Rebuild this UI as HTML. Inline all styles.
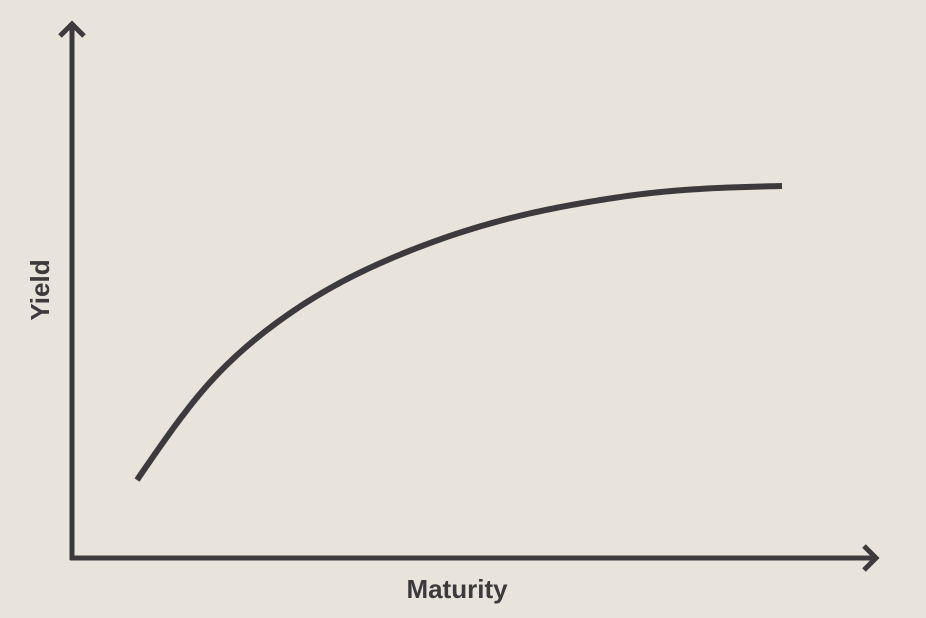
<!DOCTYPE html>
<html><head><meta charset="utf-8"><style>
html,body{margin:0;padding:0;background:#e8e4db;}
svg{display:block}
</style></head><body>
<svg id="chart" width="926" height="618">
<rect width="926" height="618" fill="#e8e4db"/>
<g stroke="#3c3a3d" stroke-width="5" fill="none" stroke-linecap="butt" stroke-linejoin="miter">
<line x1="72" y1="560" x2="72" y2="24"/>
<polyline points="60,36 72,24 84,36"/>
<line x1="70" y1="558" x2="876" y2="558"/>
<polyline points="864,546 876,558 864,570"/>
</g>
<text x="457" y="598" text-anchor="middle" font-family="Liberation Sans, sans-serif" font-size="26" font-weight="bold" fill="#3c3a3d">Maturity</text>
<text transform="translate(49,290) rotate(-90)" text-anchor="middle" font-family="Liberation Sans, sans-serif" font-size="26" font-weight="bold" fill="#3c3a3d">Yield</text>
</svg>
<script>
const maturities = [0,1,2,3,4,5,6,7,8,9,10];
const yields = [1.95,4.15,5.68,6.75,7.53,8.13,8.58,8.9,9.13,9.25,9.3];
function xScale(m){ return 137 + m*64.5; }
function yScale(v){ return 558 - v*40; }
// natural cubic spline through the data
const n = maturities.length;
const xs = maturities.map(xScale), ys = yields.map(yScale);
const h=[], al=[0], l=[1], mu=[0], z=[0], c=new Array(n).fill(0), b=[], dd=[];
for(let i=0;i<n-1;i++) h.push(xs[i+1]-xs[i]);
for(let i=1;i<n-1;i++) al.push(3/h[i]*(ys[i+1]-ys[i]) - 3/h[i-1]*(ys[i]-ys[i-1]));
for(let i=1;i<n-1;i++){ l[i]=2*(xs[i+1]-xs[i-1])-h[i-1]*mu[i-1]; mu[i]=h[i]/l[i]; z[i]=(al[i]-h[i-1]*z[i-1])/l[i]; }
for(let j=n-2;j>=0;j--){ c[j]=(z[j]||0)-(mu[j]||0)*c[j+1]; b[j]=(ys[j+1]-ys[j])/h[j]-h[j]*(c[j+1]+2*c[j])/3; dd[j]=(c[j+1]-c[j])/(3*h[j]); }
let d='M'+xs[0]+','+ys[0];
for(let j=0;j<n-1;j++){
  for(let s=1;s<=16;s++){
    const t=h[j]*s/16;
    const y=ys[j]+b[j]*t+c[j]*t*t+dd[j]*t*t*t;
    d+=' L'+(xs[j]+t).toFixed(2)+','+y.toFixed(2);
  }
}
const path=document.createElementNS('http://www.w3.org/2000/svg','path');
path.setAttribute('d',d);
path.setAttribute('fill','none');
path.setAttribute('stroke','#3c3a3d');
path.setAttribute('stroke-width','6');
path.setAttribute('stroke-linejoin','round');


document.getElementById('chart').appendChild(path);
</script>
</body></html>
